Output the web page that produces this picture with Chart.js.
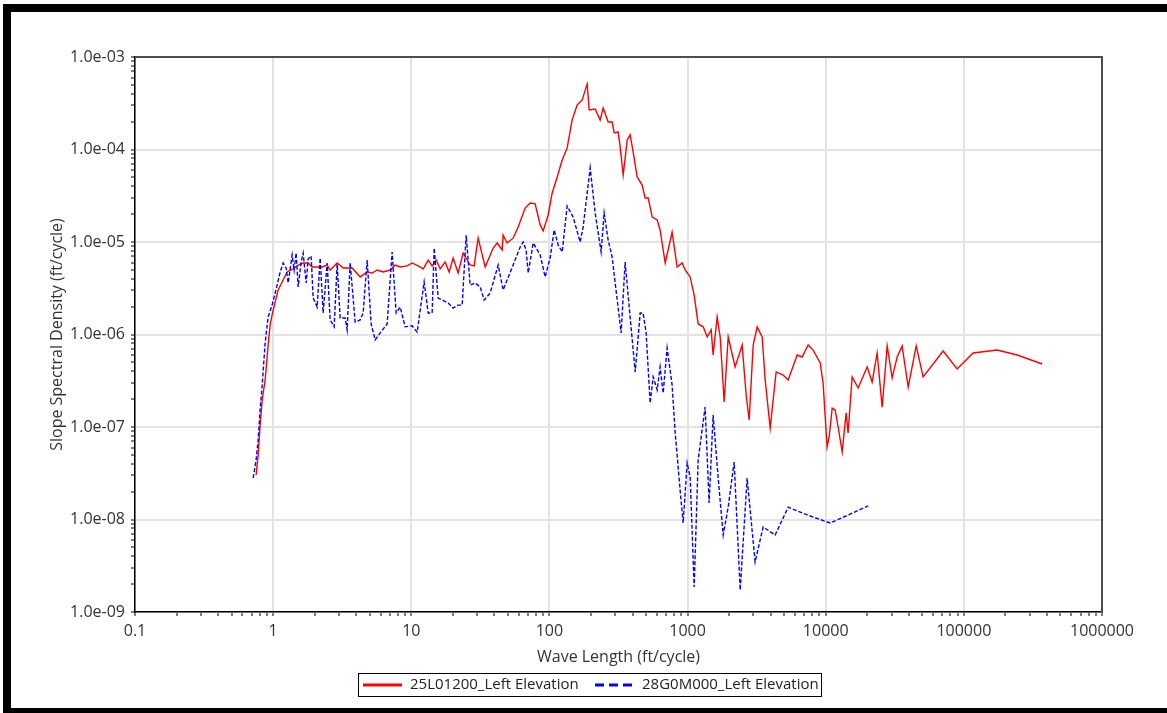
<!DOCTYPE html>
<html>
<head>
<meta charset="utf-8">
<title>Slope Spectral Density</title>
<script src="https://cdn.jsdelivr.net/npm/chart.js@4.4.1/dist/chart.umd.min.js"></script>
<style>
	html, body { margin: 0; padding: 0; background: #fff; overflow: hidden; }
	#wrap { position: relative; width: 1167px; height: 713px; }
	#frame {
		position: absolute; left: 3px; top: 4px; width: 1200px; height: 712px; box-sizing: border-box;
		border-left: 8px solid #000; border-top: 8px solid #000; border-bottom: 8px solid #000;
		pointer-events: none;
	}
	canvas { position: absolute; left: 0; top: 0; }
</style>
</head>
<body>
<div id="wrap">
	<canvas id="psdChart" width="1167" height="713"></canvas>
	<div id="frame"></div>
</div>
<script>
// Series labels
const seriesNames = ["25L01200_Left Elevation", "28G0M000_Left Elevation"];

// Wave length (ft/cycle) and slope spectral density (ft/cycle)
const redX = [0.753, 0.779, 0.805, 0.833, 0.875, 0.920, 0.951, 0.983, 1.034, 1.087,
	1.162, 1.263, 1.396, 1.517, 1.649, 1.792, 1.916, 2.014, 2.263, 2.460,
	2.586, 2.906, 3.212, 3.731, 4.264, 4.792, 5.21, 5.66, 6.26, 7.03,
	7.64, 8.31, 9.33, 10.14, 11.21, 12.19, 13.25, 14.16, 15.14, 16.18,
	17.58, 18.79, 20.09, 21.83, 23.73, 26.67, 28.51, 30.48, 34.27, 39.15,
	41.86, 45.5, 46.2, 49.4, 54.6, 59.4, 66.7, 72.5, 78.8, 85.7,
	90.1, 97.9, 104.7, 113.8, 123.7, 134.4, 145.9, 158.8, 172.6, 187.5,
	194.1, 214.3, 232.8, 244.9, 266.1, 284.4, 294.4, 314.1, 325.1, 341.9,
	365.6, 383.7, 403.6, 431.5, 468.8, 493.2, 518.8, 554.6, 602.6, 632.4,
	688.7, 723.1, 772.7, 840.6, 913.5, 960.3, 1044, 1116, 1193, 1297,
	1387, 1482, 1531, 1637, 1722, 1841, 1968, 2208, 2483, 2655,
	2791, 2985, 3190, 3467, 3645, 3963, 4376, 4920, 5346, 6211,
	6750, 7463, 8110, 9120, 9572, 10230, 10590, 11140, 11700, 12300,
	13150, 14060, 14520, 15530, 17170, 19950, 21680, 23560, 25620, 27860,
	30270, 32890, 35730, 39540, 45190, 50720, 70790, 89370, 116700, 174100,
	243100, 368800];
const redY = [3.03e-8, 4.98e-8, 1.05e-7, 1.96e-7, 3.22e-7, 7.69e-7, 1.27e-6, 1.63e-6, 2.24e-6, 3.03e-6,
	3.70e-6, 4.74e-6, 5.11e-6, 5.64e-6, 5.93e-6, 5.93e-6, 5.37e-6, 5.37e-6, 5.37e-6, 5.64e-6,
	4.98e-6, 5.93e-6, 5.24e-6, 5.24e-6, 4.19e-6, 4.74e-6, 4.62e-6, 4.98e-6, 4.74e-6, 4.98e-6,
	5.64e-6, 5.37e-6, 5.51e-6, 5.93e-6, 5.51e-6, 5.11e-6, 6.38e-6, 5.51e-6, 6.38e-6, 5.11e-6,
	6.08e-6, 4.74e-6, 6.71e-6, 4.62e-6, 7.60e-6, 5.64e-6, 5.51e-6, 1.10e-5, 5.37e-6, 8.61e-6,
	9.75e-6, 8.20e-6, 1.19e-5, 9.75e-6, 1.10e-5, 1.45e-5, 2.33e-5, 2.64e-5, 2.58e-5, 1.53e-5,
	1.32e-5, 1.96e-5, 3.39e-5, 5.05e-5, 7.69e-5, 1.04e-4, 2.08e-4, 3.03e-4, 3.43e-4, 5.10e-4,
	2.67e-4, 2.74e-4, 2.08e-4, 2.81e-4, 1.98e-4, 1.98e-4, 1.51e-4, 1.55e-4, 1.06e-4, 5.30e-5,
	1.27e-4, 1.44e-4, 9.40e-5, 5.05e-5, 4.13e-5, 2.99e-5, 2.99e-5, 1.86e-5, 1.73e-5, 1.35e-5,
	5.93e-6, 8.20e-6, 1.28e-5, 5.37e-6, 5.93e-6, 4.98e-6, 4.19e-6, 2.67e-6, 1.30e-6, 1.21e-6,
	9.40e-7, 1.12e-6, 6.00e-7, 1.55e-6, 9.40e-7, 1.86e-7, 9.40e-7, 4.46e-7, 7.69e-7, 2.22e-7,
	1.19e-7, 7.69e-7, 1.21e-6, 9.40e-7, 3.22e-7, 9.75e-8, 3.94e-7, 3.65e-7, 3.22e-7, 6.00e-7,
	5.71e-7, 7.69e-7, 6.79e-7, 4.92e-7, 2.99e-7, 6.08e-8, 7.80e-8, 1.60e-7, 1.53e-7, 1.0e-7,
	5.37e-8, 1.42e-7, 8.61e-8, 3.48e-7, 2.64e-7, 4.46e-7, 3.06e-7, 6.31e-7, 1.64e-7, 7.52e-7,
	3.39e-7, 5.71e-7, 7.52e-7, 2.70e-7, 7.52e-7, 3.48e-7, 6.64e-7, 4.24e-7, 6.31e-7, 6.79e-7,
	6.00e-7, 4.80e-7];

const blueX = [0.717, 0.753, 0.779, 0.805, 0.833, 0.875, 0.920, 0.983, 1.069, 1.124,
	1.181, 1.242, 1.284, 1.373, 1.419, 1.467, 1.517, 1.595, 1.649, 1.734,
	1.792, 1.884, 1.948, 2.083, 2.189, 2.301, 2.460, 2.586, 2.765, 2.906,
	3.055, 3.320, 3.433, 3.610, 3.924, 4.264, 4.482, 4.792, 5.122, 5.475,
	5.952, 6.688, 7.268, 7.770, 8.31, 9.03, 10.14, 11.03, 12.39, 13.25,
	14.16, 14.64, 15.65, 18.49, 20.09, 21.83, 23.35, 24.96, 26.67, 29.00,
	31.51, 33.69, 37.24, 42.55, 46.2, 49.4, 54.6, 61.4, 64.6, 67.8,
	70.2, 76.3, 85.7, 93.1, 101.2, 108.2, 115.7, 123.7, 134.4, 148.5,
	166.9, 175.4, 197.2, 214.3, 236.7, 248.9, 266.1, 284.4, 299.2, 330.4,
	353.2, 383.7, 417.8, 453.9, 476.5, 501.2, 535.8, 563.6, 602.6, 632.4,
	665.7, 711.2, 772.7, 812.8, 883.1, 929.0, 993.1, 1044, 1116, 1193,
	1340, 1432, 1531, 1663, 1811, 1968, 2173, 2404, 2698, 3083,
	3524, 4305, 5346, 7345, 10770, 20280];
const blueY = [2.81e-8, 4.40e-8, 7.23e-8, 1.53e-7, 2.84e-7, 8.09e-7, 1.55e-6, 2.08e-6, 3.43e-6, 4.74e-6,
	5.93e-6, 5.24e-6, 3.61e-6, 7.24e-6, 4.98e-6, 7.60e-6, 3.27e-6, 6.08e-6, 7.60e-6, 3.61e-6,
	6.55e-6, 7.06e-6, 2.48e-6, 1.98e-6, 6.71e-6, 1.71e-6, 5.93e-6, 1.44e-6, 1.21e-6, 5.78e-6,
	1.51e-6, 1.51e-6, 1.12e-6, 5.93e-6, 1.36e-6, 1.44e-6, 1.71e-6, 6.38e-6, 1.30e-6, 8.73e-7,
	1.04e-6, 1.30e-6, 7.80e-6, 1.71e-6, 1.98e-6, 1.21e-6, 1.24e-6, 1.06e-6, 3.70e-6, 1.71e-6,
	1.71e-6, 8.61e-6, 2.48e-6, 2.19e-6, 1.93e-6, 2.08e-6, 2.08e-6, 1.19e-5, 3.43e-6, 3.61e-6,
	3.27e-6, 2.36e-6, 2.81e-6, 5.64e-6, 3.03e-6, 3.88e-6, 5.64e-6, 8.83e-6, 1.0e-5, 8.20e-6,
	4.62e-6, 9.75e-6, 7.24e-6, 4.19e-6, 6.71e-6, 1.35e-5, 9.28e-6, 7.80e-6, 2.45e-5, 1.86e-5,
	1.0e-5, 1.45e-5, 6.31e-5, 2.06e-5, 7.80e-6, 2.06e-5, 1.05e-5, 6.89e-6, 3.61e-6, 1.04e-6,
	6.08e-6, 1.55e-6, 3.94e-7, 1.71e-6, 1.71e-6, 1.04e-6, 1.82e-7, 3.48e-7, 2.51e-7, 4.46e-7,
	2.33e-7, 7.14e-7, 2.84e-7, 8.83e-8, 2.08e-8, 9.16e-9, 4.08e-8, 2.88e-8, 1.86e-9, 4.40e-8,
	1.64e-7, 1.51e-8, 1.35e-7, 2.88e-8, 6.79e-9, 1.36e-8, 4.19e-8, 1.73e-9, 2.81e-8, 3.48e-9,
	8.30e-9, 6.79e-9, 1.36e-8, 1.12e-8, 9.16e-9, 1.40e-8];

// Axis decades and their tick labels
const xDecades = [0.1, 1, 10, 100, 1000, 10000, 100000, 1000000];
const xTickLabels = ["0.1", "1", "10", "100", "1000", "10000", "100000", "1000000"];
const yDecades = [1e-9, 1e-8, 1e-7, 1e-6, 1e-5, 1e-4, 1e-3];
const yTickLabels = ["1.0e-09", "1.0e-08", "1.0e-07", "1.0e-06", "1.0e-05", "1.0e-04", "1.0e-03"];

const fontFamily = "'Open Sans', 'Noto Sans', sans-serif";
const textColor = "#333";

// 1..9 ticks in every decade, so the minor tick marks show on the axis
function decadeTicks(decades) {
	const out = [];
	for (let i = 0; i < decades.length; i++) {
		out.push({ value: decades[i] });
		if (i < decades.length - 1) {
			for (let k = 2; k <= 9; k++) out.push({ value: +(k * decades[i]).toPrecision(6) });
		}
	}
	return out;
}
function decadeIndex(value, decades) {
	for (let i = 0; i < decades.length; i++) {
		if (Math.abs(value / decades[i] - 1) < 1e-6) return i;
	}
	return -1;
}

// top/right frame of the plot and the boxed legend under the axis title
const framePlugin = {
	id: "frameAndLegend",
	afterDraw(chart) {
		const ctx = chart.ctx;
		const a = chart.chartArea;
		ctx.save();
		ctx.strokeStyle = "#4d4d4d";
		ctx.lineWidth = 2;
		ctx.beginPath();
		ctx.moveTo(a.left, a.top);
		ctx.lineTo(a.right, a.top);
		ctx.lineTo(a.right, a.bottom);
		ctx.stroke();

		ctx.strokeStyle = "#000";
		ctx.lineWidth = 1;
		ctx.strokeRect(358.5, 673.5, 463, 23);
		const slots = [{ x: 363, textX: 410 }, { x: 595, textX: 642 }];
		ctx.font = "15px " + fontFamily;
		ctx.textBaseline = "middle";
		chart.data.datasets.forEach((ds, i) => {
			const s = slots[i];
			ctx.strokeStyle = ds.borderColor;
			ctx.lineWidth = 3;
			ctx.setLineDash(ds.borderDash ? [9, 5] : []);
			ctx.beginPath();
			ctx.moveTo(s.x, 685);
			ctx.lineTo(s.x + 39, 685);
			ctx.stroke();
			ctx.setLineDash([]);
			ctx.fillStyle = "#222";
			ctx.fillText(ds.label, s.textX, 685);
		});
		ctx.restore();
	},
};

const ctx = document.getElementById("psdChart").getContext("2d");
new Chart(ctx, {
	type: "line",
	data: {
		datasets: [
			{
				label: seriesNames[0],
				data: redX.map((x, i) => ({ x: x, y: redY[i] })),
				borderColor: "#ff0000",
				borderWidth: 1.4,
				pointRadius: 0,
				tension: 0,
				order: 1,
			},
			{
				label: seriesNames[1],
				data: blueX.map((x, i) => ({ x: x, y: blueY[i] })),
				borderColor: "#0000ff",
				borderWidth: 1.4,
				borderDash: [4, 2],
				pointRadius: 0,
				tension: 0,
				order: 0,
			},
		],
	},
	options: {
		responsive: false,
		animation: false,
		layout: { padding: { top: 57, right: 65, left: 0, bottom: 0 } },
		plugins: {
			legend: { display: false },
			tooltip: { enabled: false },
		},
		scales: {
			x: {
				type: "logarithmic",
				min: 0.1,
				max: 1000000,
				afterBuildTicks: (scale) => { scale.ticks = decadeTicks(xDecades); },
				afterFit: (scale) => { scale.height = 101; },
				ticks: {
					autoSkip: false,
					maxRotation: 0,
					padding: 6,
					color: textColor,
					font: { family: fontFamily, size: 16 },
					callback: (value) => {
						const i = decadeIndex(value, xDecades);
						return i >= 0 ? xTickLabels[i] : "";
					},
				},
				grid: {
					lineWidth: 2,
					tickLength: 4,
					tickWidth: 1,
					tickColor: "#000",
					color: (c) => (c.tick && decadeIndex(c.tick.value, xDecades) >= 0 ? "#e3e3e3" : "rgba(0,0,0,0)"),
				},
				border: { color: "#000", width: 1.5 },
				title: {
					display: true,
					text: "Wave Length (ft/cycle)",
					color: textColor,
					font: { family: fontFamily, size: 16 },
					padding: { top: 0, bottom: 46 },
				},
			},
			y: {
				type: "logarithmic",
				min: 1e-9,
				max: 1e-3,
				afterBuildTicks: (scale) => { scale.ticks = decadeTicks(yDecades); },
				afterFit: (scale) => { scale.width = 135; },
				ticks: {
					autoSkip: false,
					padding: 6,
					color: textColor,
					font: { family: fontFamily, size: 16 },
					callback: (value) => {
						const i = decadeIndex(value, yDecades);
						return i >= 0 ? yTickLabels[i] : "";
					},
				},
				grid: {
					lineWidth: 2,
					tickLength: 4,
					tickWidth: 1,
					tickColor: "#000",
					color: (c) => (c.tick && decadeIndex(c.tick.value, yDecades) >= 0 ? "#e3e3e3" : "rgba(0,0,0,0)"),
				},
				border: { color: "#000", width: 1.5 },
				title: {
					display: true,
					text: "Slope Spectral Density (ft/cycle)",
					color: textColor,
					font: { family: fontFamily, size: 16 },
					padding: { top: 48, bottom: 0 },
				},
			},
		},
	},
	plugins: [framePlugin],
});
</script>
</body>
</html>
